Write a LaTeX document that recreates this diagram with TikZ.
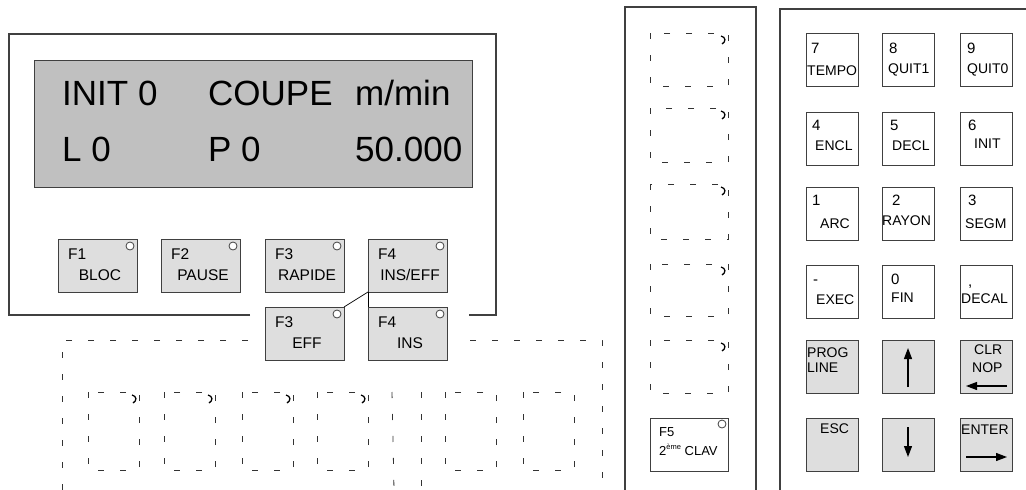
\documentclass[tikz,border=0pt]{standalone}
\usepackage{fontspec}
\setmainfont{Liberation Sans}
\usetikzlibrary{arrows.meta}
\definecolor{btngray}{HTML}{DEDEDE}
\definecolor{lcdgray}{HTML}{C0C0C0}
\definecolor{edge}{HTML}{404040}
\newcommand\mkfbtn[5]{%
  \node[fbtn] (#1) at (#2,#3) {};
  \draw[ledcirc] ([shift={(-7pt,-7pt)}]#1.north east) circle[radius=4pt];
  \node[ftxt, anchor=base west] (#1-t) at ([shift={(10pt,-20pt)}]#1.north west) {#4};
  \node[ftxt, anchor=base] (#1-b) at ([shift={(2.5pt,-41pt)}]#1.north) {#5};
}
\newcommand\mkdbox[5]{% x1 y1 x2 y2 mark
  \draw[dbox] (#1,#2) rectangle (#3,#4);
  \ifnum#5=1
    \draw[cmark] ({#3-7},{#2+3}) .. controls ({#3-2},{#2+4}) and ({#3-2},{#2+9}) .. ({#3-6},{#2+11});
  \fi
}
\begin{document}
\begin{tikzpicture}[x=1pt,y=-1pt,
  frame/.style={draw=edge, line width=1.1pt},
  dbox/.style={draw=black!80, line width=0.8pt, dash pattern=on 6pt off 16pt},
  cmark/.style={draw=black, line width=1.3pt},
  fbtn/.style={draw=edge, fill=btngray, line width=1pt, minimum width=79pt, minimum height=53pt, anchor=north west, inner sep=0pt, outer sep=0pt},
  ledcirc/.style={draw=edge, fill=white, line width=0.8pt},
  ftxt/.style={inner sep=0pt, font=\fontsize{15.5}{18}\selectfont},
  lcdtxt/.style={inner sep=0pt, anchor=base west, font=\fontsize{35}{40}\selectfont},
  kkey/.style={draw=edge, fill=white, line width=1pt, minimum width=52pt, minimum height=53pt, anchor=north west, inner sep=0pt, outer sep=0pt},
  kgray/.style={kkey, fill=btngray},
  knum/.style={inner sep=0pt, anchor=base west, font=\fontsize{15}{17}\selectfont},
  kword/.style={inner sep=0pt, anchor=base west, font=\fontsize{14}{16}\selectfont},
  karrow/.style={draw=black, line width=1.2pt, -{Triangle[length=11pt,width=8pt]}},
  link/.style={draw=black, line width=0.7pt}
]
\useasboundingbox (0,0) rectangle (1026,490);

% ---- main panel ----
\draw[frame] (250,315) -- (9,315) -- (9,34) -- (496,34) -- (496,315) -- (469,315);
\node[draw=edge, fill=lcdgray, line width=1pt, minimum width=438pt, minimum height=127pt, anchor=north west, inner sep=0pt] (lcd) at (34,60) {};
\node[lcdtxt] (l1a) at (62,105) {INIT 0};
\node[lcdtxt] (l1b) at (208,105) {COUPE};
\node[lcdtxt] (l1c) at (355,105) {m/min};
\node[lcdtxt] (l2a) at (62,161) {L 0};
\node[lcdtxt] (l2b) at (208,161) {P 0};
\node[lcdtxt] (l2c) at (355,161) {50.000};

\mkfbtn{f1}{58}{239}{F1}{BLOC}
\mkfbtn{f2}{161}{239}{F2}{PAUSE}
\mkfbtn{f3}{265}{239}{F3}{RAPIDE}
\mkfbtn{f4}{368}{239}{F4}{INS/EFF}
\mkfbtn{f3b}{265}{307}{F3}{EFF}
\mkfbtn{f4b}{368}{307}{F4}{INS}
\draw[link] (f4.south west) -- (f3b.north east);
\draw[link] (f4.south west) -- (f4b.north west);

% ---- dashed area below ----
\draw[dbox] (248,340) -- (62,340) -- (62,490);
\draw[dbox] (470,340) -- (602,340) -- (602,490);
\mkdbox{88}{392}{139}{470}{1}
\mkdbox{164}{392}{215}{470}{1}
\mkdbox{242}{392}{293}{470}{1}
\mkdbox{317}{392}{368}{470}{1}
\mkdbox{445}{392}{496}{470}{0}
\mkdbox{523}{392}{574}{470}{0}
\draw[dbox] (392,392) -- (394,490);
\draw[dbox] (421,392) -- (421,490);

% ---- middle panel ----
\draw[frame] (625,490) -- (625,7) -- (756,7) -- (756,490);
\mkdbox{650}{33}{728}{86}{1}
\mkdbox{650}{108}{728}{162}{1}
\mkdbox{650}{184}{728}{239}{1}
\mkdbox{650}{264}{728}{316}{1}
\mkdbox{650}{340}{728}{393}{1}
\node[draw=edge, fill=white, line width=1pt, minimum width=78pt, minimum height=53pt, anchor=north west, inner sep=0pt] (f5) at (650,418) {};
\draw[ledcirc] ([shift={(-7pt,-6pt)}]f5.north east) circle[radius=4pt];
\node[inner sep=0pt, anchor=base west, font=\fontsize{13}{15}\selectfont] (f5-t) at (659,436) {F5};
\node[inner sep=0pt, anchor=base west, font=\fontsize{13}{15}\selectfont] (f5-b) at (659,455) {2\raisebox{0.45em}{\fontsize{7.5}{8}\selectfont ème} CLAV};

% ---- keypad ----
\draw[frame] (780,490) -- (780,9) -- (1026,9);
\node[kkey] (k7) at (806,33) {};
\node[kkey] (k8) at (882,33) {};
\node[kkey] (k9) at (960,33) {};
\node[kkey] (k4) at (806,112) {};
\node[kkey] (k5) at (882,112) {};
\node[kkey] (k6) at (960,112) {};
\node[kkey] (k1) at (806,187) {};
\node[kkey] (k2) at (882,187) {};
\node[kkey] (k3) at (960,187) {};
\node[kkey] (kminus) at (806,265) {};
\node[kkey] (kzero) at (882,265) {};
\node[kkey] (kcomma) at (960,265) {};
\node[kgray] (kprog) at (806,340) {};
\node[kgray] (kup) at (882,340) {};
\node[kgray] (kclr) at (960,340) {};
\node[kgray] (kesc) at (806,418) {};
\node[kgray] (kdown) at (882,418) {};
\node[kgray] (kenter) at (960,418) {};

\node[knum] (k7a) at (811,53) {7};
\node[kword] (k7b) at (807,75) {TEMPO};
\node[knum] (k8a) at (889,53) {8};
\node[kword] (k8b) at (888,73) {QUIT1};
\node[knum] (k9a) at (967,53) {9};
\node[kword] (k9b) at (967,73) {QUIT0};
\node[knum] (k4a) at (812,130) {4};
\node[kword] (k4b) at (815,150) {ENCL};
\node[knum] (k5a) at (890,130) {5};
\node[kword] (k5b) at (892,150) {DECL};
\node[knum] (k6a) at (968,130) {6};
\node[kword] (k6b) at (974,148) {INIT};
\node[knum] (k1a) at (812,205) {1};
\node[kword] (k1b) at (820,228) {ARC};
\node[knum] (k2a) at (892,205) {2};
\node[kword] (k2b) at (882,225) {RAYON};
\node[knum] (k3a) at (968,205) {3};
\node[kword] (k3b) at (965,228) {SEGM};
\node[knum] (kminusa) at (813,284) {-};
\node[kword] (kminusb) at (816,304) {EXEC};
\node[knum] (kzeroa) at (891,284) {0};
\node[kword] (kzerob) at (891,302) {FIN};
\node[knum] (kcommaa) at (968,286) {,};
\node[kword] (kcommab) at (961,303) {DECAL};
\node[kword] (kproga) at (807,357) {PROG};
\node[kword] (kprogb) at (807,372) {LINE};
\node[kword] (kclra) at (974,354) {CLR};
\node[kword] (kclrb) at (972,372) {NOP};
\node[kword] (kesca) at (820,433) {ESC};
\node[kword] (kentera) at (961,434) {ENTER};

\draw[karrow] ([yshift=6pt]kup.south) -- ([yshift=-8pt]kup.north);
\draw[karrow] ([yshift=-9pt]kdown.north) -- ([yshift=14pt]kdown.south);
\draw[karrow] ([shift={(-5pt,7pt)}]kclr.south east) -- ([shift={(6pt,7pt)}]kclr.south west);
\draw[karrow] ([shift={(6pt,14pt)}]kenter.south west) -- ([shift={(-5pt,14pt)}]kenter.south east);
\end{tikzpicture}
\end{document}
